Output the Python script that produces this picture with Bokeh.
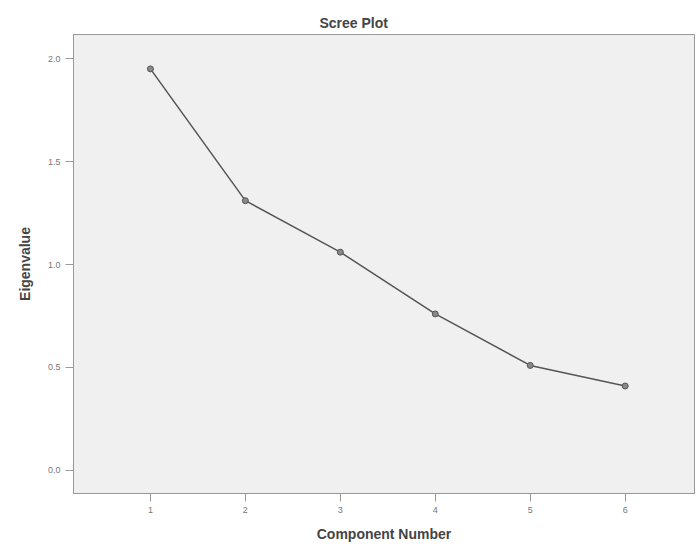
from bokeh.plotting import figure
from bokeh.models import FixedTicker, Range1d
from bokeh.embed import file_html
from bokeh.resources import INLINE

components = [1, 2, 3, 4, 5, 6]
eigenvalues = [1.95, 1.31, 1.06, 0.76, 0.51, 0.41]
y_ticks = [0.0, 0.5, 1.0, 1.5, 2.0]

p = figure(width=696, height=544, output_backend="svg", toolbar_location=None,
           x_range=Range1d(0.19, 6.73), y_range=Range1d(-0.112, 2.117),
           title="Scree Plot")
p.min_border_left = 73
p.min_border_right = 2
p.min_border_top = 34
p.min_border_bottom = 51

p.title.align = "left"
p.title.offset = 246
p.title.standoff = 7
p.title.text_font = "Liberation Sans"
p.title.text_font_size = "14px"
p.title.text_font_style = "bold"
p.title.text_color = "#444444"

p.background_fill_color = "#f0f0f0"
p.border_fill_color = "white"
p.outline_line_color = "#999999"
p.grid.visible = False

p.xaxis.ticker = FixedTicker(ticks=components)
p.yaxis.ticker = FixedTicker(ticks=y_ticks)
p.yaxis.major_label_overrides = {0.0: "0.0", 0.5: "0.5", 1.0: "1.0", 1.5: "1.5", 2.0: "2.0"}

for ax in (p.xaxis, p.yaxis):
    ax.axis_line_color = "#999999"
    ax.major_tick_line_color = "#999999"
    ax.minor_tick_line_color = None
    ax.major_tick_in = 0
    ax.major_tick_out = 8
    ax.major_label_text_font = "Liberation Sans"
    ax.major_label_text_font_size = "9px"
    ax.major_label_text_color = "#777777"
    ax.axis_label_text_font = "Liberation Sans"
    ax.axis_label_text_font_size = "14px"
    ax.axis_label_text_font_style = "bold"
    ax.axis_label_text_color = "#444444"

p.xaxis.axis_label = "Component Number"
p.yaxis.axis_label = "Eigenvalue"
p.xaxis.axis_label_standoff = 10
p.yaxis.axis_label_standoff = 12

p.line(components, eigenvalues, line_color="#555555", line_width=1.5)
p.scatter(components, eigenvalues, size=6, marker="circle",
          fill_color="#888888", line_color="#555555")

open("out.html", "w").write(file_html(p, INLINE))
